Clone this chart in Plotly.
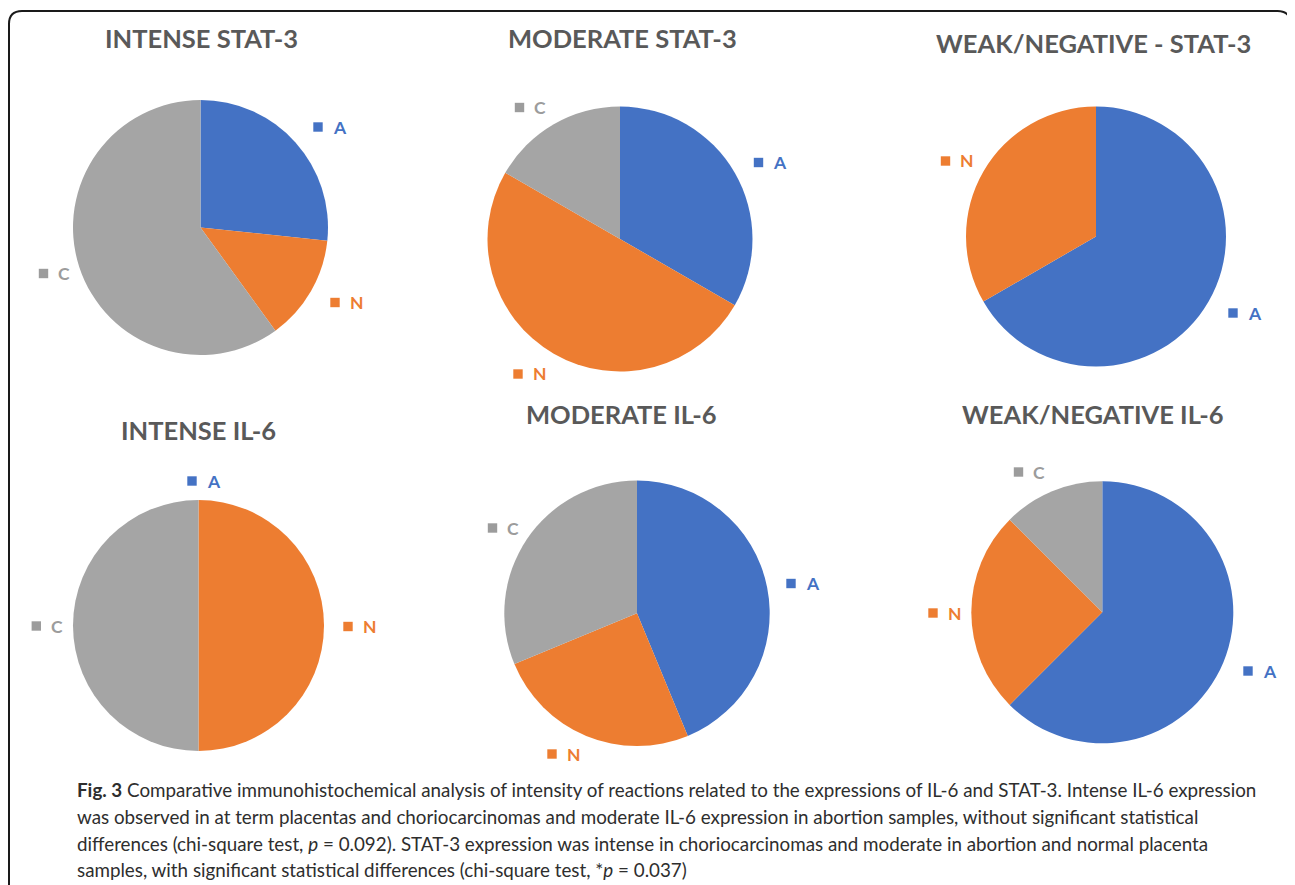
import plotly.graph_objects as go

# ---------------- data ----------------
categories = ["A", "N", "C"]
intense_stat3 = [4, 2, 9]
moderate_stat3 = [2, 3, 1]
weak_stat3 = [2, 1, 0]
intense_il6 = [0, 1, 1]
moderate_il6 = [7, 4, 5]
weak_il6 = [5, 2, 1]

titles = ["INTENSE STAT-3", "MODERATE STAT-3", "WEAK/NEGATIVE - STAT-3",
          "INTENSE IL-6", "MODERATE IL-6", "WEAK/NEGATIVE IL-6"]
series = [intense_stat3, moderate_stat3, weak_stat3, intense_il6, moderate_il6, weak_il6]

caption_lines = [
    "<b>Fig. 3</b> Comparative immunohistochemical analysis of intensity of reactions related to the expressions of IL-6 and STAT-3. Intense IL-6 expression",
    "was observed in at term placentas and choriocarcinomas and moderate IL-6 expression in abortion samples, without significant statistical",
    "differences (chi-square test, <i>p</i> = 0.092). STAT-3 expression was intense in choriocarcinomas and moderate in abortion and normal placenta",
    "samples, with significant statistical differences (chi-square test, *<i>p</i> = 0.037)",
]

# ---------------- styles / layout ----------------
W, H = 1295, 885
OFF = 8  # page body margin of the html page
colors = {"A": "#4472C4", "N": "#ED7D31", "C": "#A5A5A5"}
label_colors = {"A": "#4472C4", "N": "#ED7D31", "C": "#9C9C9C"}

pie_geom = [(200.5, 227.5, 127.5), (620, 239, 132.5), (1096, 236.5, 130),
            (198.5, 625.5, 125.5), (637, 613.3, 132.7), (1102.3, 612.3, 131)]
title_pos = [(201.5, 38), (622, 38), (1093, 43), (198, 430), (621, 414), (1092.5, 414)]
# square-marker centre of each data label, per pie
label_pos = [
    {"A": (318, 127), "N": (335, 302.5), "C": (43.5, 273.5)},
    {"A": (758.5, 162.5), "N": (518, 374), "C": (519.5, 107.5)},
    {"A": (1233, 313), "N": (945.5, 161)},
    {"A": (192, 481), "N": (348, 626.5), "C": (36.3, 626)},
    {"A": (791, 583.5), "N": (552, 754), "C": (492.5, 528)},
    {"A": (1248, 671), "N": (933, 613), "C": (1018.5, 472)},
]
caption_y = [789, 816, 843, 869]


def px(x):
    return (x - OFF) / W


def py(y):
    return 1 - (y - OFF) / H


fig = go.Figure()
annotations = []
shapes = []

for i, vals in enumerate(series):
    cx, cy, r = pie_geom[i]
    fig.add_trace(go.Pie(
        labels=categories, values=vals, sort=False, direction="clockwise",
        rotation=0, textinfo="none", hoverinfo="label+value",
        marker=dict(colors=[colors[c] for c in categories], line=dict(width=0)),
        domain=dict(x=[px(cx - r), px(cx + r)], y=[py(cy + r), py(cy - r)]),
        showlegend=False,
    ))
    tx, ty = title_pos[i]
    annotations.append(dict(
        x=px(tx), y=py(ty), xref="paper", yref="paper", text=titles[i],
        showarrow=False, xanchor="center", yanchor="middle",
        font=dict(family="Lato", size=25.5, color="#595959", weight=700)))
    for cat, (sx, sy) in label_pos[i].items():
        s = 4.7
        shapes.append(dict(type="rect", xref="paper", yref="paper",
                           x0=px(sx - s), x1=px(sx + s), y0=py(sy + s), y1=py(sy - s),
                           fillcolor=label_colors[cat], line=dict(width=0)))
        annotations.append(dict(
            x=px(sx + 12.5), y=py(sy), xref="paper", yref="paper", text=cat,
            showarrow=False, xanchor="left", yanchor="middle",
            font=dict(family="Lato", size=17.5, color=label_colors[cat], weight=700)))

for line, y in zip(caption_lines, caption_y):
    annotations.append(dict(
        x=px(75), y=py(y), xref="paper", yref="paper", text=line,
        showarrow=False, xanchor="left", yanchor="middle",
        font=dict(family="Lato", size=18.8, color="#2e2e2e")))

# rounded border
x0, y0, x1, y1, rr = 9, 11, 1290.5, 900, 13
path = (f"M {px(x0 + rr)},{py(y0)} L {px(x1 - rr)},{py(y0)} "
        f"Q {px(x1)},{py(y0)} {px(x1)},{py(y0 + rr)} "
        f"L {px(x1)},{py(y1)} L {px(x0)},{py(y1)} "
        f"L {px(x0)},{py(y0 + rr)} Q {px(x0)},{py(y0)} {px(x0 + rr)},{py(y0)} Z")
shapes.append(dict(type="path", xref="paper", yref="paper", path=path,
                   line=dict(color="#1a1a1a", width=2), fillcolor="rgba(0,0,0,0)"))

fig.update_layout(
    width=W, height=H, margin=dict(l=0, r=0, t=0, b=0),
    paper_bgcolor="white", plot_bgcolor="white",
    annotations=annotations, shapes=shapes,
)

fig.write_html("out.html")
